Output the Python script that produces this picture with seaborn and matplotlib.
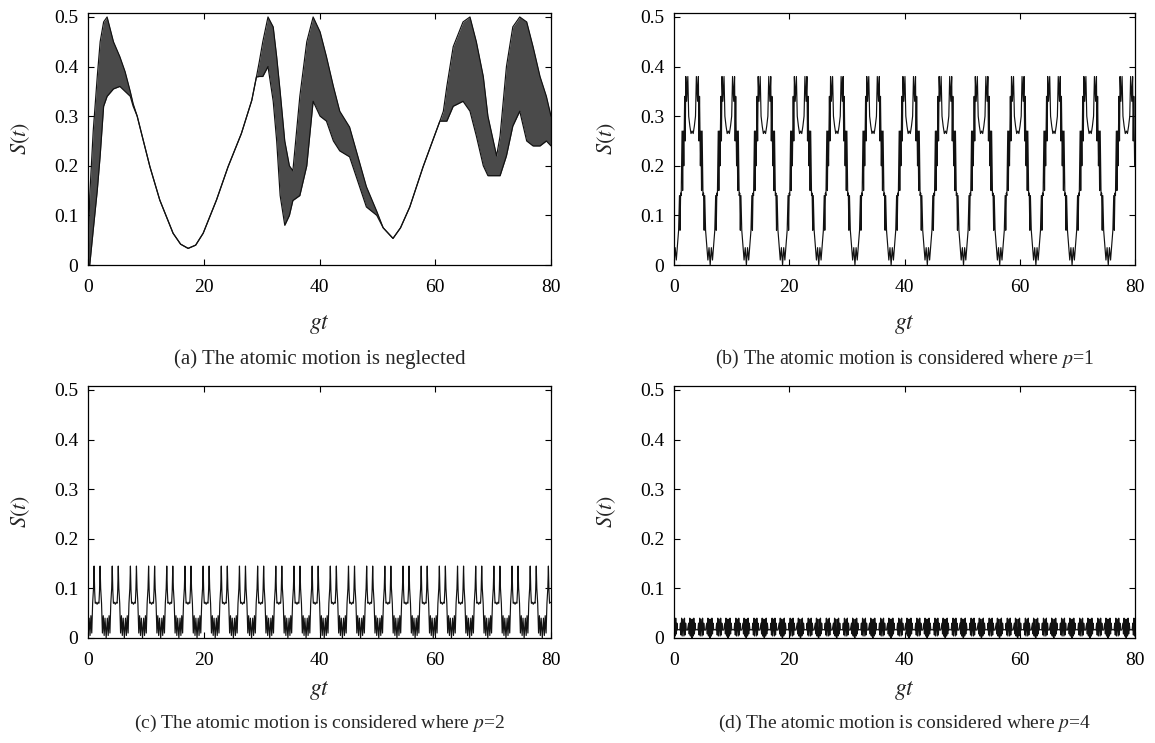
import numpy as np
import pandas as pd
import matplotlib
matplotlib.use("Agg")
import matplotlib.pyplot as plt
import seaborn as sns

# ---------------- data ----------------
# (a) atomic motion neglected: envelope of the fast oscillation
t_a = [0.0, 0.3, 0.9, 1.6, 2.1, 2.7, 3.3, 4.4, 5.5, 6.4, 7.3, 7.8, 8.5, 9.25, 10.7,
       12.4, 14.7, 16.0, 17.3, 18.6, 19.9, 22.2, 24.2, 26.5, 28.3, 29.1, 29.6, 30.2,
       31.1, 32.0, 32.6, 33.2, 34.0, 34.8, 35.4, 36.6, 37.8, 38.9, 40.1, 41.2, 42.4,
       43.5, 45.2, 48.1, 49.9, 51.0, 52.7, 54.0, 55.6, 57.9, 59.6, 60.8, 61.4, 62.0,
       63.1, 64.8, 66.0, 67.1, 68.3, 69.1, 70.6, 71.2, 72.3, 73.4, 74.6, 75.8, 76.9,
       78.1, 79.2, 80.0]
upper_a = [0.00, 0.14, 0.27, 0.38, 0.45, 0.49, 0.50, 0.45, 0.42, 0.39, 0.35, 0.325, 0.30,
           0.265, 0.198, 0.131, 0.064, 0.042, 0.0335, 0.040, 0.064, 0.131, 0.198, 0.265,
           0.332, 0.379, 0.41, 0.45, 0.50, 0.48, 0.42, 0.35, 0.25, 0.20, 0.19, 0.34, 0.45,
           0.50, 0.47, 0.42, 0.36, 0.31, 0.278, 0.158, 0.108, 0.075, 0.0536, 0.075, 0.117,
           0.198, 0.252, 0.29, 0.31, 0.36, 0.44, 0.49, 0.50, 0.45, 0.38, 0.30, 0.22, 0.26,
           0.40, 0.48, 0.50, 0.49, 0.44, 0.38, 0.34, 0.30]
lower_a = [0.00, 0.00, 0.07, 0.15, 0.22, 0.32, 0.34, 0.355, 0.36, 0.35, 0.34, 0.32, 0.30,
           0.265, 0.198, 0.131, 0.064, 0.042, 0.0335, 0.040, 0.064, 0.131, 0.198, 0.265,
           0.332, 0.379, 0.38, 0.38, 0.40, 0.33, 0.25, 0.14, 0.08, 0.10, 0.13, 0.14, 0.20,
           0.33, 0.30, 0.29, 0.25, 0.23, 0.218, 0.117, 0.100, 0.075, 0.0536, 0.075, 0.117,
           0.198, 0.252, 0.29, 0.29, 0.29, 0.32, 0.33, 0.31, 0.26, 0.20, 0.18, 0.18, 0.18,
           0.22, 0.28, 0.31, 0.25, 0.24, 0.24, 0.25, 0.24]

# (b) p=1 : one period (length read as 6.28)
period_b = 6.28
pt_b = [0.00, 0.20, 0.40, 0.60, 0.80, 0.95, 1.05, 1.15, 1.25, 1.40, 1.50, 1.60, 1.70,
        1.85, 1.95, 2.05, 2.20, 2.40, 2.55, 2.75, 2.95, 3.14, 3.33, 3.53, 3.73, 3.88,
        4.08, 4.23, 4.33, 4.43, 4.58, 4.68, 4.78, 4.88, 5.03, 5.13, 5.23, 5.33, 5.48,
        5.68, 5.88, 6.08]
ps_b = [0.000, 0.035, 0.010, 0.040, 0.070, 0.140, 0.070, 0.145, 0.140, 0.270, 0.150,
        0.270, 0.200, 0.340, 0.250, 0.380, 0.330, 0.380, 0.300, 0.280, 0.265, 0.270,
        0.265, 0.280, 0.300, 0.380, 0.330, 0.380, 0.250, 0.340, 0.200, 0.270, 0.150,
        0.270, 0.140, 0.145, 0.070, 0.140, 0.070, 0.040, 0.010, 0.035]

# (c) p=2 : one period (length read as 3.14)
period_c = 3.14
pt_c = [0.00, 0.20, 0.35, 0.50, 0.65, 0.80, 0.95, 1.05, 1.15, 1.25, 1.40, 1.57, 1.74,
        1.89, 1.99, 2.09, 2.19, 2.34, 2.49, 2.64, 2.79, 2.94]
ps_c = [0.000, 0.040, 0.005, 0.045, 0.010, 0.070, 0.100, 0.145, 0.095, 0.070, 0.072,
        0.068, 0.072, 0.070, 0.095, 0.145, 0.100, 0.070, 0.010, 0.045, 0.005, 0.040]

# (d) p=4 : one period (length read as 3.14)
period_d = 3.14
pt_d = [0.00, 0.10, 0.20, 0.30, 0.40, 0.50, 0.62, 0.80, 1.00, 1.12, 1.22, 1.32, 1.42,
        1.57, 1.72, 1.82, 1.92, 2.02, 2.14, 2.34, 2.54, 2.64, 2.74, 2.84, 2.94, 3.04]
ps_d = [0.000, 0.038, 0.004, 0.040, 0.008, 0.030, 0.016, 0.017, 0.016, 0.030, 0.006,
        0.040, 0.004, 0.038, 0.004, 0.040, 0.006, 0.030, 0.016, 0.016, 0.030, 0.008,
        0.040, 0.004, 0.038, 0.002]

x_ticks = [0, 20, 40, 60, 80]
y_ticks = [0, 0.1, 0.2, 0.3, 0.4, 0.5]
y_ticklabels = ["0", "0.1", "0.2", "0.3", "0.4", "0.5"]
captions = ["(a) The atomic motion is neglected",
            "(b) The atomic motion is considered where $p$=1",
            "(c) The atomic motion is considered where $p$=2",
            "(d) The atomic motion is considered where $p$=4"]


def repeat_period(pt, ps, period, t_end=80.0):
    ts, ss = [], []
    k = 0
    while k * period <= t_end:
        for a, b in zip(pt, ps):
            ts.append(a + k * period)
            ss.append(b)
        k += 1
    df = pd.DataFrame({"t": ts, "S": ss})
    return df[df["t"] <= t_end]


# ---------------- style ----------------
sns.set_theme(style="ticks")
plt.rcParams["font.family"] = ["Liberation Serif", "DejaVu Serif"]
plt.rcParams["mathtext.fontset"] = "stix"
plt.rcParams["axes.linewidth"] = 0.9

fig = plt.figure(figsize=(11.55, 7.43), dpi=100)
W, H = 1155, 743
boxes = [(88, 13, 551, 265), (674, 13, 1135, 265),
         (88, 386, 551, 638), (674, 386, 1135, 638)]
axes = []
for (l, t, r, b) in boxes:
    ax = fig.add_axes([l / W, 1 - b / H, (r - l) / W, (b - t) / H])
    axes.append(ax)

lc = "#111111"
lw = 0.85

# (a)
ax = axes[0]
ax.fill_between(t_a, lower_a, upper_a, color="#4a4a4a", linewidth=0)
sns.lineplot(x=t_a, y=upper_a, ax=ax, color=lc, linewidth=lw, estimator=None, sort=False)
sns.lineplot(x=t_a, y=lower_a, ax=ax, color=lc, linewidth=lw, estimator=None, sort=False)

for ax, (pt, ps, per) in zip(axes[1:], [(pt_b, ps_b, period_b),
                                        (pt_c, ps_c, period_c),
                                        (pt_d, ps_d, period_d)]):
    df = repeat_period(pt, ps, per)
    sns.lineplot(data=df, x="t", y="S", ax=ax, color=lc, linewidth=lw,
                 estimator=None, sort=False)

gt_y = [325, 325, 690, 690]
cap_y = [359, 359, 723, 723]
cap_fs = [15.0, 14.3, 14.0, 14.0]
for i, ax in enumerate(axes):
    ax.set_xlim(0, 80)
    ax.set_ylim(0, 0.508)
    ax.set_xticks(x_ticks)
    ax.set_xticklabels([str(v) for v in x_ticks])
    ax.set_yticks(y_ticks)
    ax.set_yticklabels(y_ticklabels)
    ax.tick_params(direction="in", top=True, right=True, length=4, width=0.8,
                   labelsize=14, colors="black")
    ax.tick_params(axis="x", pad=10)
    ax.tick_params(axis="y", pad=7)
    for s in ax.spines.values():
        s.set_color("black")
    ax.set_xlabel("")
    ax.set_ylabel("$S(t)$", fontsize=16)
    ax.yaxis.set_label_coords(-0.122, 0.5)
    l, t, r, b = boxes[i]
    fig.text((l + r) / 2 / W, 1 - gt_y[i] / H, "$gt$", ha="center", va="center",
             fontsize=17)
    fig.text((l + r) / 2 / W, 1 - cap_y[i] / H, captions[i], ha="center", va="center",
             fontsize=cap_fs[i])

fig.savefig("out.png", dpi=100)
